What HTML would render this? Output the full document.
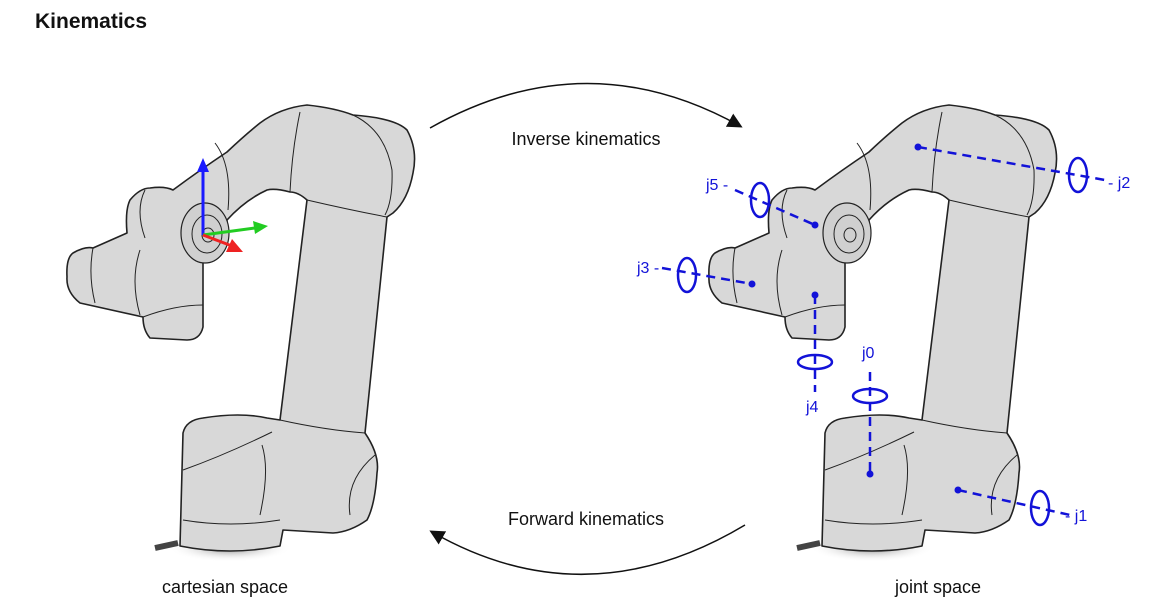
<!DOCTYPE html>
<html><head><meta charset="utf-8">
<style>
html,body{margin:0;padding:0;background:#fff;width:1168px;height:610px;overflow:hidden;font-family:"Liberation Sans",sans-serif}
svg{position:absolute;left:0;top:0}
</style></head>
<body>
<svg width="1168" height="610" viewBox="0 0 1168 610">
<defs>
<marker id="ah" markerWidth="10" markerHeight="10" refX="8" refY="5" orient="auto"><path d="M0,0 L10,5 L0,10 z" fill="#111"/></marker>
<radialGradient id="sh" cx="0.5" cy="0.5" r="0.5"><stop offset="0" stop-color="#888"/><stop offset="1" stop-color="#fff" stop-opacity="0"/></radialGradient>
<g id="robot" stroke="#222" stroke-width="1.6" fill="#d8d8d8" stroke-linejoin="round">
  <ellipse cx="230" cy="548" rx="62" ry="14" fill="url(#sh)" stroke="none"/>
  <path d="M155,548 L178,543" stroke-width="6" stroke="#444"/>
  <path d="M307,105 Q335,108 353,115 Q395,118 407,130 Q418,150 413,173 Q408,200 393,213 L387,217 L365,433 Q380,455 377,473 Q375,505 367,520 Q350,532 333,533 L283,530 L280,546 Q230,556 180,546 L183,433 Q186,420 203,418 Q240,412 267,418 L280,420 L307,200 Q298,192 290,192 Q275,188 267,190 Q245,200 227,220 Q228,240 223,250 Q215,260 203,263 L203,327 Q200,340 187,340 L150,338 Q143,330 143,317 L80,303 Q66,292 67,277 Q66,258 73,253 Q85,246 93,248 L127,233 Q125,210 130,200 Q140,188 150,188 Q165,186 173,190 Q200,170 227,152 Q245,135 260,123 Q280,108 307,105 Z"/>
  <g fill="none" stroke-width="1">
    <path d="M353,115 Q385,130 392,170 Q393,200 385,215"/>
    <path d="M300,112 Q292,150 290,192"/>
    <path d="M307,200 Q350,210 387,217"/>
    <path d="M280,420 Q325,430 365,433"/>
    <path d="M215,143 Q232,165 228,210"/>
    <path d="M375,455 Q345,480 350,515"/>
    <path d="M262,445 Q270,470 260,515"/>
    <path d="M183,470 Q225,455 272,432"/>
    <path d="M183,520 Q230,528 280,520"/>
    <path d="M143,317 Q175,305 203,305"/>
    <path d="M93,248 Q88,275 95,303"/>
    <path d="M140,250 Q130,280 140,315"/>
    <path d="M145,190 Q135,210 145,238"/>
  </g>
  <ellipse cx="205" cy="233" rx="24" ry="30" fill="#d0d0d0" stroke-width="1.2"/>
  <ellipse cx="207" cy="234" rx="15" ry="19" fill="none" stroke-width="1"/>
  <ellipse cx="208" cy="235" rx="6" ry="7" fill="none" stroke-width="1"/>
</g>
</defs>

<text x="35" y="28" font-size="21" font-weight="bold" fill="#111">Kinematics</text>

<use href="#robot"/>
<use href="#robot" transform="translate(642,0)"/>

<g stroke-width="3">
<line x1="203" y1="235" x2="203" y2="168" stroke="#1a1aff"/><path d="M197,172 L203,158 L209,172 Z" fill="#1a1aff"/>
<line x1="203" y1="235" x2="255" y2="228" stroke="#22cc22"/><path d="M253,221 L268,226 L255,234 Z" fill="#22cc22"/>
<line x1="203" y1="235" x2="232" y2="246" stroke="#ee2222"/><path d="M232,239 L243,252 L226,252 Z" fill="#ee2222"/>
</g>

<path d="M430,128 Q586,40 740,126" fill="none" stroke="#111" stroke-width="1.5" marker-end="url(#ah)"/>
<path d="M745,525 Q586,620 432,532" fill="none" stroke="#111" stroke-width="1.5" marker-end="url(#ah)"/>
<text x="586" y="145" font-size="18" text-anchor="middle" fill="#111">Inverse kinematics</text>
<text x="586" y="525" font-size="18" text-anchor="middle" fill="#111">Forward kinematics</text>
<text x="225" y="593" font-size="18" text-anchor="middle" fill="#111">cartesian space</text>
<text x="938" y="593" font-size="18" text-anchor="middle" fill="#111">joint space</text>

<g stroke="#1212d8" stroke-width="2.5" stroke-dasharray="9,6" fill="none">
<line x1="918" y1="147" x2="1105" y2="180"/>
<line x1="735" y1="190" x2="815" y2="225"/>
<line x1="662" y1="268" x2="752" y2="284"/>
<line x1="815" y1="295" x2="815" y2="392"/>
<line x1="870" y1="372" x2="870" y2="474"/>
<line x1="958" y1="490" x2="1070" y2="515"/>
</g>
<g stroke="#1212d8" stroke-width="2.5" fill="none">
<ellipse cx="1078" cy="175" rx="9" ry="17"/>
<ellipse cx="760" cy="200" rx="9" ry="17"/>
<ellipse cx="687" cy="275" rx="9" ry="17"/>
<ellipse cx="815" cy="362" rx="17" ry="7"/>
<ellipse cx="870" cy="396" rx="17" ry="7"/>
<ellipse cx="1040" cy="508" rx="9" ry="17"/>
</g>
<g fill="#1212d8">
<circle cx="918" cy="147" r="3.5"/><circle cx="815" cy="225" r="3.5"/><circle cx="752" cy="284" r="3.5"/>
<circle cx="815" cy="295" r="3.5"/><circle cx="870" cy="474" r="3.5"/><circle cx="958" cy="490" r="3.5"/>
</g>
<g fill="#1212d8" font-size="16">
<text x="706" y="190">j5 -</text>
<text x="637" y="273">j3 -</text>
<text x="1108" y="188">- j2</text>
<text x="862" y="358">j0</text>
<text x="806" y="412">j4</text>
<text x="1065" y="521">- j1</text>
</g>
</svg>
</body></html>
